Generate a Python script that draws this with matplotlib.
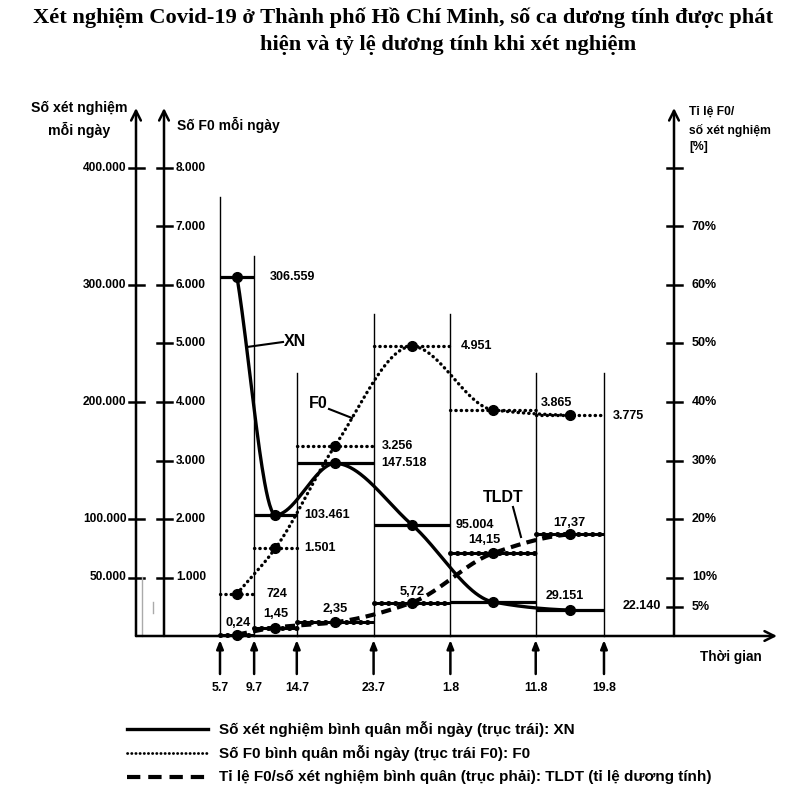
import numpy as np
import pandas as pd
import matplotlib
matplotlib.use('Agg')
import matplotlib.pyplot as plt

plt.rcParams['font.family'] = ['Liberation Sans', 'DejaVu Sans']

# dữ liệu
start = '2021-07-05'
boundary_dates = ['2021-07-05', '2021-07-09', '2021-07-14', '2021-07-23',
                  '2021-08-01', '2021-08-11', '2021-08-19']
date_labels = ['5.7', '9.7', '14.7', '23.7', '1.8', '11.8', '19.8']
xn_avg = [306559, 103461, 147518, 95004, 29151, 22140]
f0_avg = [724, 1501, 3256, 4951, 3865, 3775]
tldt_pct = [0.24, 1.45, 2.35, 5.72, 14.15, 17.37]

xn_ticks = [400000, 300000, 200000, 100000, 50000]
f0_ticks = [8000, 7000, 6000, 5000, 4000, 3000, 2000, 1000]
pct_ticks = [80, 70, 60, 50, 40, 30, 20, 10, 5]
pct_labels = ['', '70%', '60%', '50%', '40%', '30%', '20%', '10%', '5%']

XN_PER_F0 = 50     # 400.000 xét nghiệm <-> 8.000 F0
F0_PER_PCT = 100   # 10% <-> 1.000 F0

# khung hình: trục x = ngày kể từ 5.7, trục y = đơn vị F0
PX0, PX_PER_DAY = 220, 8.533
PY0, PY_PER_UNIT = 636, 0.0585
W, H = 800, 809


def X(px):
    return (px - PX0) / PX_PER_DAY


def Y(py):
    return (PY0 - py) / PY_PER_UNIT


def pchip(x, y, xs):
    x = np.asarray(x, float)
    y = np.asarray(y, float)
    h = np.diff(x)
    delta = np.diff(y) / h
    d = np.zeros_like(y)
    for k in range(1, len(x) - 1):
        if delta[k - 1] * delta[k] > 0:
            w1 = 2 * h[k] + h[k - 1]
            w2 = h[k] + 2 * h[k - 1]
            d[k] = (w1 + w2) / (w1 / delta[k - 1] + w2 / delta[k])
    d[0] = delta[0]
    d[-1] = delta[-1] * 0.3
    idx = np.clip(np.searchsorted(x, xs) - 1, 0, len(x) - 2)
    t = (xs - x[idx]) / h[idx]
    h00 = 2 * t**3 - 3 * t**2 + 1
    h10 = t**3 - 2 * t**2 + t
    h01 = -2 * t**3 + 3 * t**2
    h11 = t**3 - t**2
    return h00 * y[idx] + h10 * h[idx] * d[idx] + h01 * y[idx + 1] + h11 * h[idx] * d[idx + 1]


def dot_fmt(v):
    return f'{v:,}'.replace(',', '.')


days = (pd.to_datetime(boundary_dates) - pd.Timestamp(start)).days.values.astype(float)
mids = (days[:-1] + days[1:]) / 2
xn_y = np.array(xn_avg) / XN_PER_F0
f0_y = np.array(f0_avg, float)
tl_y = np.array(tldt_pct) * F0_PER_PCT

fig = plt.figure(figsize=(W / 100, H / 100), dpi=100)
ax = fig.add_axes([0, 0, 1, 1])
ax.set_xlim(X(0), X(W))
ax.set_ylim(Y(H), Y(0))
ax.axis('off')

DOT = (0, (0.1, 1.5))
DASH = (0, (2.4, 1.5))
bold = dict(fontweight='bold', color='black')

# các trục
x_xn, x_f0, x_pct = X(136), X(164), X(674)
arrow = dict(arrowstyle='->,head_length=0.7,head_width=0.35', lw=1.8,
             color='black', shrinkA=0, shrinkB=0)
for xa in [x_xn, x_f0, x_pct]:
    ax.annotate('', xy=(xa, Y(108)), xytext=(xa, 0), arrowprops=arrow)
ax.annotate('', xy=(X(777), 0), xytext=(x_xn, 0), arrowprops=arrow)

tick = 7.5 / PX_PER_DAY
for v in xn_ticks:
    ax.plot([x_xn - tick, x_xn + tick], [v / XN_PER_F0] * 2, color='black', lw=1.8)
    ax.text(x_xn - 1.1, v / XN_PER_F0, dot_fmt(v), ha='right', va='center', fontsize=8.6, **bold)
for v in f0_ticks:
    ax.plot([x_f0 - tick, x_f0 + tick], [v, v], color='black', lw=1.8)
    ax.text(x_f0 + 1.4, v, dot_fmt(v), ha='left', va='center', fontsize=8.6, **bold)
for v, lab in zip(pct_ticks, pct_labels):
    ax.plot([x_pct - tick, x_pct + tick], [v * F0_PER_PCT] * 2, color='black', lw=1.8)
    ax.text(x_pct + 2.1, v * F0_PER_PCT, lab, ha='left', va='center', fontsize=9, **bold)

ax.text(X(79), Y(108), 'Số xét nghiệm', ha='center', va='center', fontsize=10.2, **bold)
ax.text(X(79), Y(130), 'mỗi ngày', ha='center', va='center', fontsize=10.2, **bold)
ax.text(X(177), Y(125), 'Số F0 mỗi ngày', ha='left', va='center', fontsize=10, **bold)
ax.text(X(689), Y(112), 'Tỉ lệ F0/', ha='left', va='center', fontsize=8.7, **bold)
ax.text(X(689), Y(130), 'số xét nghiệm', ha='left', va='center', fontsize=8.7, **bold)
ax.text(X(689), Y(147), '[%]', ha='left', va='center', fontsize=8.7, **bold)

# vết xám nhỏ như bản gốc
ax.plot([X(142), X(142)], [Y(577), 0], color='#aaaaaa', lw=1)
ax.plot([X(153), X(153)], [Y(602), Y(613)], color='#aaaaaa', lw=1)

# các mốc thời gian
boundary_tops = [7500, 6500, 4500, 5500, 5500, 4500, 4500]
for d, top, lab in zip(days, boundary_tops, date_labels):
    ax.plot([d, d], [0, top], color='black', lw=1.0)
    ax.annotate('', xy=(d, Y(640)), xytext=(d, Y(674)),
                arrowprops=dict(arrowstyle='-|>,head_length=0.5,head_width=0.2',
                                lw=1.8, color='black', shrinkA=0, shrinkB=0))
    ax.text(d, Y(688), lab, ha='center', va='center', fontsize=8.8, **bold)
ax.text(X(700), Y(657), 'Thời gian', ha='left', va='center', fontsize=9.8, **bold)

# đường bình quân theo giai đoạn
for i in range(len(mids)):
    x0, x1 = days[i], days[i + 1]
    ax.plot([x0, x1], [xn_y[i]] * 2, color='black', lw=2.3, solid_capstyle='butt')
    ax.plot([x0, x1], [f0_y[i]] * 2, color='black', lw=2.4, ls=DOT, dash_capstyle='round')
    ax.plot([x0, x1], [tl_y[i]] * 2, color='black', lw=2.2, solid_capstyle='butt')
    ax.plot([x0, x1], [tl_y[i]] * 2, color='black', lw=3.6, ls=(0, (0.1, 1.3)),
            dash_capstyle='round')

# đường cong
xs = np.linspace(mids[0], mids[-1], 400)
ax.plot(xs, pchip(mids, xn_y, xs), color='black', lw=2.4)
ax.plot(xs, pchip(mids, f0_y, xs), color='black', lw=2.4, ls=DOT, dash_capstyle='round')
ax.plot(xs, pchip(mids, tl_y, xs), color='black', lw=3.0, ls=DASH)
for vals in [xn_y, f0_y, tl_y]:
    ax.plot(mids, vals, 'o', color='black', ms=7)

# nhãn số liệu
k = 0.72  # px -> pt
xn_off = [(16, 0), (7, 0), (8, 0), (5, 0), (10, 6), (19, 4)]
f0_off = [(12, 0), (7, 0), (8, 0), (10, 0), (5, 7), (9, -1)]
tl_off = [(1, 12), (0, 14), (0, 13), (0, 11), (-9, 13), (0, 11)]
for i in range(len(mids)):
    ax.annotate(dot_fmt(xn_avg[i]), (days[i + 1], xn_y[i]),
                xytext=(xn_off[i][0] * k, xn_off[i][1] * k), textcoords='offset points',
                ha='left', va='center', fontsize=9, **bold)
    ax.annotate(dot_fmt(f0_avg[i]), (days[i + 1], f0_y[i]),
                xytext=(f0_off[i][0] * k, f0_off[i][1] * k), textcoords='offset points',
                ha='left', va='center', fontsize=9, **bold)
    ax.annotate(f'{tldt_pct[i]:.2f}'.replace('.', ','), (mids[i], tl_y[i]),
                xytext=(tl_off[i][0] * k, tl_off[i][1] * k), textcoords='offset points',
                ha='center', va='center', fontsize=9.3, **bold)

# chú thích tên đường
ax.plot([X(283), X(247)], [Y(342), Y(347)], color='black', lw=1.5)
ax.text(X(284), Y(342), 'XN', ha='left', va='center', fontsize=11.5, **bold)
ax.plot([X(329), X(352)], [Y(409), Y(418)], color='black', lw=1.5)
ax.text(X(309), Y(403), 'F0', ha='left', va='center', fontsize=11.5, **bold)
ax.plot([X(513), X(521)], [Y(507), Y(537)], color='black', lw=1.5)
ax.text(X(483), Y(498), 'TLDT', ha='left', va='center', fontsize=11.5, **bold)

# chú giải
legend_items = [
    ('Số xét nghiệm bình quân mỗi ngày (trục trái): XN', dict(lw=2.4)),
    ('Số F0 bình quân mỗi ngày (trục trái F0): F0', dict(lw=2.0, ls=(0, (0.1, 1.4)), dash_capstyle='round')),
    ('Tỉ lệ F0/số xét nghiệm bình quân (trục phải): TLDT (tỉ lệ dương tính)', dict(lw=3.0, ls=(0, (3.2, 1.9)))),
]
for j, (lab, style) in enumerate(legend_items):
    yy = Y(729 + 24 * j)
    ax.plot([X(127), X(208)], [yy, yy], color='black', **style)
    ax.text(X(219), yy, lab, ha='left', va='center', fontsize=11, **bold)

# tiêu đề
ax.text(X(403), Y(18), 'Xét nghiệm Covid-19 ở Thành phố Hồ Chí Minh, số ca dương tính được phát',
        ha='center', va='center', fontsize=16.2, family='Liberation Serif', **bold)
ax.text(X(448), Y(45), 'hiện và tỷ lệ dương tính khi xét nghiệm',
        ha='center', va='center', fontsize=16.2, family='Liberation Serif', **bold)

fig.savefig('out.png', dpi=100)
